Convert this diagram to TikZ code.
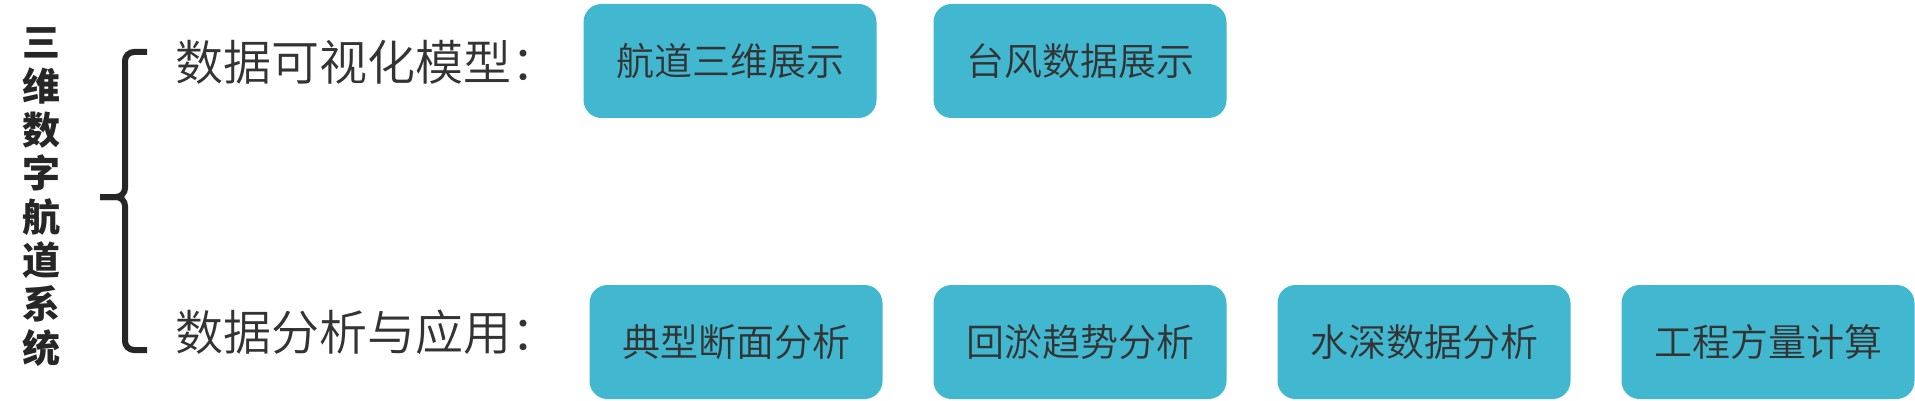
\documentclass[tikz,border=0pt]{standalone}
\usepackage{fontspec}
\setmainfont{Noto Sans CJK SC}
\newfontfamily\lightcjk{Noto Sans CJK SC}[UprightFont=* DemiLight]
\usetikzlibrary{positioning}
\definecolor{boxblue}{RGB}{66,183,208}
\definecolor{txtgray}{RGB}{51,51,51}

\begin{document}
\begin{tikzpicture}[x=1pt,y=-1pt,node distance=344pt,on grid,
  item/.style={rectangle,rounded corners=18pt,fill=boxblue,minimum width=293pt,
    minimum height=114pt,inner sep=0pt,text=txtgray,font=\lightcjk\fontsize{38}{40}\selectfont},
  rowlabel/.style={anchor=west,inner sep=0pt,text=txtgray,font=\lightcjk\fontsize{48}{50}\selectfont}]
\useasboundingbox (0,0) rectangle (1915,401);
% title and brace
\node[align=center,inner sep=0pt,text=black!85,font=\fontsize{38}{43.6}\selectfont\bfseries] (title) at (41,197)
  {三\\维\\数\\字\\航\\道\\系\\统};
\draw[line width=6pt,black!85,rounded corners=9pt] (147,52) -- (125,52) -- (125,197) -- (100,197);
\draw[line width=6pt,black!85,rounded corners=9pt] (147,350) -- (125,350) -- (125,197) -- (100,197);
% first row
\node[rowlabel] (vis) at (175,62) {数据可视化模型：};
\node[item] (v_1) at (730,61) {航道三维展示};
\node[item] (v_2) at (1080,61) {台风数据展示};
% second row
\node[rowlabel] (ana) at (175,332) {数据分析与应用：};
\node[item] (a_1) at (736,342) {典型断面分析};
\node[item] (a_2) [right=of a_1] {回淤趋势分析};
\node[item] (a_3) [right=of a_2] {水深数据分析};
\node[item] (a_4) [right=of a_3] {工程方量计算};
\end{tikzpicture}
\end{document}
